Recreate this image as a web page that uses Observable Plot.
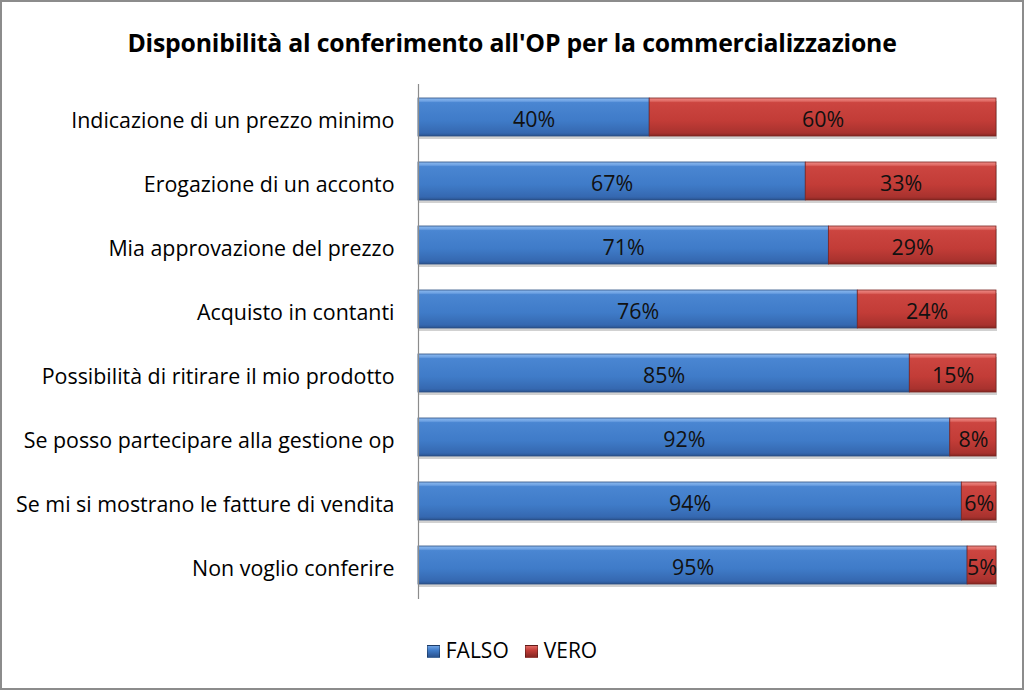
<!DOCTYPE html>
<html><head><meta charset="utf-8">
<script src="https://cdn.jsdelivr.net/npm/d3@7"></script>
<script src="https://cdn.jsdelivr.net/npm/@observablehq/plot@0.6"></script>
<style>
body{margin:0;background:#fff;}
#wrap{width:1024px;height:690px;box-sizing:border-box;border:2px solid #8c8c8c;font-family:"Open Sans",Lato,sans-serif;color:#000;position:relative;overflow:hidden;}
#title{height:68px;line-height:80px;text-align:center;font-weight:bold;font-size:24.8px;letter-spacing:-0.2px;}
#legend{position:absolute;left:0;right:0;top:634px;text-align:center;font-size:21px;}
#legend span.item{display:inline-block;margin:0 8px;}
#legend i{display:inline-block;width:13px;height:13px;margin-right:6px;vertical-align:0px;border:1px solid rgba(0,0,0,0.3);box-sizing:border-box;}
</style></head>
<body><div id="wrap"><div id="title">Disponibilità al conferimento all'OP per la commercializzazione</div><div id="chart"></div><div id="legend"></div></div>
<script>
const categories = ["Indicazione di un prezzo minimo","Erogazione di un acconto","Mia approvazione del prezzo","Acquisto in contanti","Possibilità di ritirare il mio prodotto","Se posso partecipare alla gestione op","Se mi si mostrano le fatture di vendita","Non voglio conferire"];
const falso = [40,67,71,76,85,92,94,95];
const vero = [60,33,29,24,15,8,6,5];
const seriesNames = ["FALSO","VERO"];

const rows = categories.map((c,i)=>({cat:c, f:falso[i], v:vero[i]}));

const plot = Plot.plot({
  width:1020, height:545,
  marginLeft:416, marginRight:26, marginTop:14, marginBottom:16,
  style:{fontFamily:"'Open Sans', Lato, sans-serif", fontSize:"21.4px", color:"#000", background:"transparent"},
  x:{domain:[0,100], axis:null},
  y:{domain:categories, paddingInner:0.4, paddingOuter:0.2, align:0.5, label:null, axis:null},
  marks:[
    Plot.axisY({tickSize:0, tickPadding:24, dy:4, label:null, fontSize:21.4}),
    Plot.barX(rows,{y:"cat", x1:0, x2:d=>d.f+d.v, fill:"#000", fillOpacity:0.18, dy:3, dx:1}),
    Plot.barX(rows,{y:"cat", x1:0, x2:"f", fill:"url(#gB)", stroke:"#2b4f82", strokeWidth:0.8}),
    Plot.barX(rows,{y:"cat", x1:"f", x2:d=>d.f+d.v, fill:"url(#gR)", stroke:"#7a2420", strokeWidth:0.8}),
    Plot.text(rows,{y:"cat", x:d=>d.f/2, text:d=>d.f+"%", fill:"#111", fontSize:21.4, dy:3}),
    Plot.text(rows,{y:"cat", x:d=>d.f+d.v/2, text:d=>d.v+"%", fill:"#111", fontSize:21.4, dy:3}),
    Plot.ruleX([0],{stroke:"#8c8c8c", strokeWidth:1.2})
  ]
});
const svg = d3.select(plot);
const defs = svg.insert("defs",":first-child");
function grad(id, stops){
  const g = defs.append("linearGradient").attr("id",id).attr("x1",0).attr("y1",0).attr("x2",0).attr("y2",1);
  stops.forEach(([o,c])=>g.append("stop").attr("offset",o).attr("stop-color",c));
}
grad("gB",[[0,"#8ab8ee"],[0.08,"#6fa3e4"],[0.12,"#4a86d2"],[0.6,"#3f7bc8"],[0.92,"#3568b0"],[1,"#2a5390"]]);
grad("gR",[[0,"#ee8a86"],[0.08,"#e06a64"],[0.12,"#cc4540"],[0.6,"#c23c37"],[0.92,"#a8322e"],[1,"#862622"]]);
document.getElementById("chart").appendChild(plot);

const lg = document.getElementById("legend");
const cols = ["linear-gradient(#6fa3e4,#3f7bc8 40%,#2a5390)","linear-gradient(#e06a64,#c23c37 40%,#862622)"];
seriesNames.forEach((s,i)=>{
  const sp=document.createElement("span"); sp.className="item";
  const ic=document.createElement("i"); ic.style.background=cols[i];
  sp.appendChild(ic); sp.appendChild(document.createTextNode(s)); lg.appendChild(sp);
});
</script></body></html>
